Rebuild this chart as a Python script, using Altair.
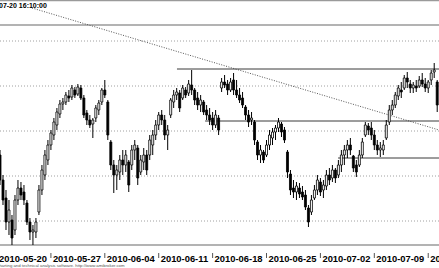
import altair as alt
import pandas as pd

# OHLC price bars (intraday)
OPEN = [1145, 1120, 1102, 1078, 1080, 1070, 1100, 1112, 1108, 1097,
        1078, 1068, 1068, 1088, 1110, 1125, 1140, 1155, 1165, 1175,
        1186, 1196, 1198, 1204, 1203, 1210, 1206, 1212, 1202, 1187,
        1180, 1176, 1182, 1190, 1198, 1210, 1198, 1158, 1135, 1125,
        1128, 1140, 1135, 1138, 1135, 1150, 1152, 1128, 1138, 1145,
        1145, 1155, 1165, 1175, 1185, 1180, 1165, 1185, 1198, 1205,
        1207, 1202, 1210, 1207, 1215, 1210, 1202, 1195, 1198, 1190,
        1185, 1182, 1175, 1182, 1212, 1218, 1216, 1210, 1220, 1210,
        1205, 1202, 1193, 1185, 1180, 1178, 1158, 1145, 1148, 1145,
        1155, 1162, 1168, 1172, 1176, 1170, 1148, 1126, 1112, 1108,
        1112, 1108, 1105, 1092, 1088, 1102, 1110, 1118, 1110, 1114,
        1125, 1122, 1130, 1125, 1135, 1145, 1150, 1155, 1144, 1135,
        1135, 1145, 1165, 1174, 1172, 1165, 1155, 1150, 1150, 1162,
        1178, 1190, 1195, 1204, 1210, 1212, 1222, 1216, 1212, 1214,
        1214, 1220, 1216, 1212, 1220, 1228, 1218]
HIGH = [1150, 1125, 1110, 1100, 1085, 1105, 1120, 1118, 1115, 1100,
        1082, 1075, 1082, 1115, 1135, 1150, 1160, 1170, 1182, 1192,
        1200, 1202, 1208, 1210, 1215, 1213, 1216, 1215, 1205, 1190,
        1185, 1182, 1195, 1200, 1212, 1220, 1200, 1160, 1140, 1135,
        1145, 1150, 1150, 1140, 1155, 1160, 1155, 1145, 1152, 1150,
        1165, 1170, 1180, 1188, 1190, 1185, 1175, 1202, 1210, 1212,
        1210, 1215, 1213, 1220, 1230, 1212, 1208, 1205, 1200, 1195,
        1192, 1188, 1190, 1185, 1222, 1225, 1220, 1222, 1227, 1220,
        1212, 1208, 1195, 1190, 1188, 1180, 1160, 1155, 1150, 1160,
        1170, 1172, 1175, 1182, 1178, 1173, 1150, 1130, 1120, 1118,
        1117, 1114, 1110, 1095, 1105, 1115, 1125, 1122, 1120, 1130,
        1132, 1135, 1132, 1140, 1150, 1155, 1160, 1162, 1145, 1140,
        1150, 1162, 1178, 1177, 1178, 1170, 1160, 1158, 1160, 1180,
        1195, 1200, 1208, 1215, 1218, 1225, 1228, 1220, 1218, 1220,
        1224, 1227, 1222, 1220, 1230, 1237, 1220]
LOW = [1115, 1095, 1070, 1065, 1055, 1065, 1095, 1100, 1095, 1075,
       1060, 1055, 1062, 1085, 1105, 1120, 1135, 1150, 1160, 1170,
       1182, 1190, 1195, 1198, 1200, 1202, 1204, 1200, 1182, 1175,
       1172, 1162, 1178, 1185, 1195, 1202, 1160, 1130, 1107, 1110,
       1120, 1125, 1128, 1108, 1130, 1140, 1115, 1125, 1130, 1125,
       1140, 1145, 1160, 1170, 1175, 1160, 1150, 1182, 1192, 1200,
       1188, 1200, 1202, 1204, 1205, 1195, 1190, 1188, 1185, 1180,
       1175, 1170, 1172, 1165, 1208, 1212, 1205, 1208, 1205, 1202,
       1197, 1192, 1180, 1173, 1175, 1155, 1140, 1137, 1137, 1143,
       1150, 1155, 1160, 1168, 1163, 1157, 1122, 1105, 1102, 1100,
       1102, 1100, 1090, 1073, 1085, 1100, 1105, 1104, 1102, 1110,
       1115, 1118, 1117, 1122, 1128, 1135, 1142, 1145, 1128, 1123,
       1133, 1142, 1163, 1165, 1160, 1150, 1145, 1143, 1145, 1160,
       1175, 1185, 1192, 1200, 1202, 1210, 1212, 1207, 1207, 1208,
       1212, 1213, 1208, 1207, 1215, 1222, 1188]
CLOSE = [1120, 1100, 1078, 1090, 1062, 1100, 1112, 1105, 1100, 1078,
         1068, 1070, 1078, 1110, 1130, 1145, 1155, 1167, 1178, 1188,
         1196, 1198, 1205, 1202, 1212, 1205, 1213, 1202, 1185, 1180,
         1175, 1180, 1192, 1197, 1210, 1205, 1165, 1135, 1125, 1130,
         1140, 1135, 1145, 1115, 1150, 1155, 1122, 1140, 1145, 1130,
         1160, 1165, 1175, 1185, 1180, 1165, 1170, 1200, 1205, 1208,
         1192, 1212, 1205, 1216, 1210, 1200, 1195, 1200, 1188, 1185,
         1180, 1175, 1185, 1170, 1218, 1215, 1210, 1218, 1210, 1205,
         1200, 1195, 1185, 1178, 1182, 1160, 1145, 1150, 1140, 1155,
         1165, 1168, 1172, 1178, 1168, 1160, 1128, 1110, 1108, 1114,
         1106, 1103, 1093, 1078, 1100, 1110, 1120, 1108, 1115, 1125,
         1120, 1130, 1122, 1135, 1145, 1150, 1155, 1150, 1132, 1128,
         1145, 1158, 1175, 1170, 1165, 1155, 1150, 1152, 1155, 1175,
         1190, 1195, 1205, 1212, 1208, 1222, 1218, 1212, 1215, 1212,
         1220, 1216, 1212, 1218, 1227, 1230, 1195]

WEEK_LABELS = ["2010-05-20", "2010-05-27", "2010-06-04", "2010-06-11",
               "2010-06-18", "2010-06-25", "2010-07-02", "2010-07-09",
               "2010-07-16"]
WEEK_START_BAR = [0, 18, 36, 54, 72, 90, 108, 126, 144]

GRID_LEVELS = [1079, 1124, 1169, 1214, 1259]
H_LEVELS = [1231, 1179, 1142]
H_START_BAR = [60.1, 69.5, 113.9]
TREND_BAR = [11.7, 147.6]
TREND_PRICE = [1292, 1170]

TITLE = "07-20 16:10:00"
FOOTER = "charting and technical analysis software. http://www.amibroker.com"

X_DOMAIN = [1, 147.6]
Y_DOMAIN = [1032, 1300]

bars = pd.DataFrame({
    "bar": list(range(1, len(OPEN) + 1)),
    "open": OPEN, "high": HIGH, "low": LOW, "close": CLOSE,
})
bars["dir"] = ["up" if c >= o else "down" for o, c in zip(OPEN, CLOSE)]

xs = alt.Scale(domain=X_DOMAIN, nice=False, zero=False, padding=0)
ys = alt.Scale(domain=Y_DOMAIN, nice=False, zero=False, padding=0)

grid = alt.Chart(pd.DataFrame({"p": GRID_LEVELS})).mark_rule(
    color="#a0a0a0", strokeWidth=1, strokeDash=[1, 2]
).encode(y=alt.Y("p:Q", scale=ys, axis=None), x=alt.value(0), x2=alt.value(439))

frame = alt.Chart(pd.DataFrame({"yy": [0.5, 25, 245]})).mark_rule(
    color="#9a9a9a", strokeWidth=1.6
).encode(y=alt.Y("yy:Q", scale=None), x=alt.value(0), x2=alt.value(439))

hl = alt.Chart(pd.DataFrame({
    "p": H_LEVELS, "s": H_START_BAR, "e": [X_DOMAIN[1]] * len(H_LEVELS)
})).mark_rule(color="#3a3a3a", strokeWidth=1).encode(
    x=alt.X("s:Q", scale=xs, axis=None), x2="e:Q",
    y=alt.Y("p:Q", scale=ys, axis=None)
)

trend = alt.Chart(pd.DataFrame({
    "b0": [TREND_BAR[0]], "b1": [TREND_BAR[1]],
    "p0": [TREND_PRICE[0]], "p1": [TREND_PRICE[1]]
})).mark_rule(color="#555555", strokeWidth=1, strokeDash=[1, 1.5]).encode(
    x=alt.X("b0:Q", scale=xs, axis=None), x2="b1:Q",
    y=alt.Y("p0:Q", scale=ys, axis=None), y2="p1:Q"
)

wick = alt.Chart(bars).mark_rule(color="black", strokeWidth=1).encode(
    x=alt.X("bar:Q", scale=xs, axis=None),
    y=alt.Y("low:Q", scale=ys, axis=None), y2="high:Q"
)

body = alt.Chart(bars).mark_bar(size=2, stroke="black", strokeWidth=0.8).encode(
    x=alt.X("bar:Q", scale=xs, axis=None),
    y=alt.Y("open:Q", scale=ys, axis=None), y2="close:Q",
    fill=alt.condition(alt.datum.dir == "up", alt.value("white"), alt.value("black"))
)

wk = pd.DataFrame({"bar": WEEK_START_BAR, "lab": WEEK_LABELS})
ticks = alt.Chart(wk).mark_rule(color="#555555", strokeWidth=1).encode(
    x=alt.X("bar:Q", scale=xs, axis=None), y=alt.value(253), y2=alt.value(258)
)
labels = alt.Chart(wk).mark_text(
    align="left", baseline="alphabetic", dx=2, fontSize=9.4, fontWeight="bold",
    font="Liberation Sans", color="black"
).encode(x=alt.X("bar:Q", scale=xs, axis=None), y=alt.value(262), text="lab:N")

title = alt.Chart(pd.DataFrame({"t": [TITLE]})).mark_text(
    align="left", baseline="alphabetic", fontSize=7, fontWeight="bold",
    font="Liberation Sans", color="black"
).encode(x=alt.value(-1), y=alt.value(8), text="t:N")

footer = alt.Chart(pd.DataFrame({"t": [FOOTER]})).mark_text(
    align="left", baseline="alphabetic", fontSize=4.3,
    font="Liberation Sans", color="#555555"
).encode(x=alt.value(-3), y=alt.value(266.5), text="t:N")

chart = alt.layer(
    grid, frame, trend, hl, wick, body, ticks, labels, title, footer
).properties(
    width=439, height=268,
    autosize=alt.AutoSizeParams(type="none"),
    padding=0, background="white"
).configure_view(stroke=None)

chart.save("out.html", embed_options={"renderer": "svg", "actions": False})
